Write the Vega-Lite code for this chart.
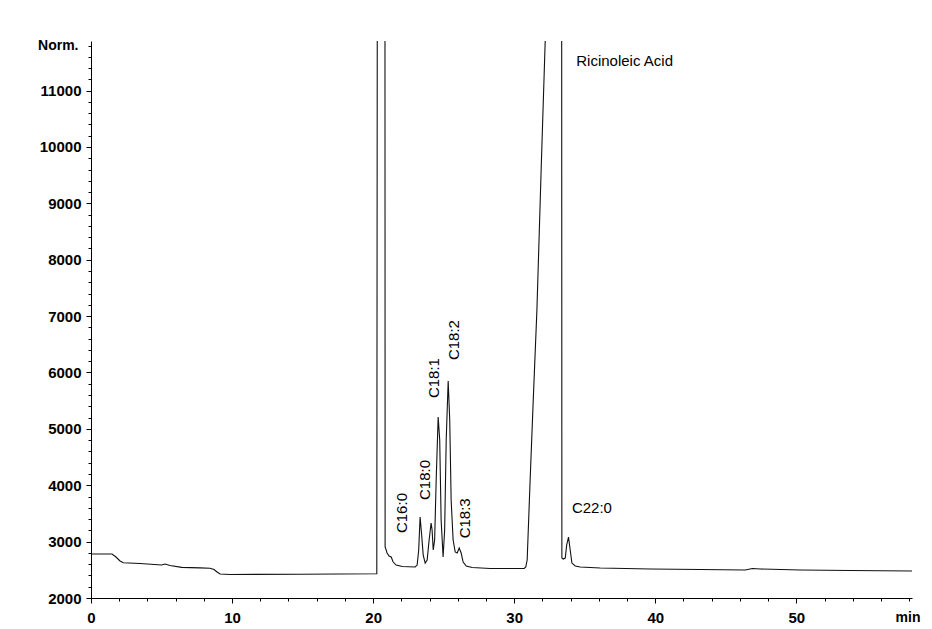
{
  "$schema": "https://vega.github.io/schema/vega-lite/v6.json",
  "width": 821,
  "height": 557,
  "autosize": {"type": "none"},
  "padding": {"left": 91, "top": 41, "right": 20, "bottom": 31},
  "background": "white",
  "config": {
    "view": {"stroke": null},
    "axis": {
      "domainColor": "#000",
      "tickColor": "#000",
      "labelColor": "#000",
      "titleColor": "#000",
      "labelFont": "Liberation Sans",
      "titleFont": "Liberation Sans",
      "grid": false
    }
  },
  "datasets": {
    "trace": [
      {"t": 0, "v": 2780}, {"t": 1.49, "v": 2780}, {"t": 1.77, "v": 2727}, {"t": 2.06, "v": 2656},
      {"t": 2.29, "v": 2626}, {"t": 3.48, "v": 2612}, {"t": 5.01, "v": 2585}, {"t": 5.25, "v": 2603},
      {"t": 5.6, "v": 2576}, {"t": 6.43, "v": 2544}, {"t": 7.73, "v": 2535}, {"t": 8.44, "v": 2527},
      {"t": 8.72, "v": 2505}, {"t": 8.94, "v": 2461}, {"t": 9.15, "v": 2425}, {"t": 9.86, "v": 2417},
      {"t": 14.82, "v": 2422}, {"t": 20.26, "v": 2429}, {"t": 20.32, "v": 20000}, {"t": 20.83, "v": 20000},
      {"t": 20.85, "v": 2904}, {"t": 20.99, "v": 2798}, {"t": 21.13, "v": 2745}, {"t": 21.28, "v": 2727},
      {"t": 21.42, "v": 2638}, {"t": 21.63, "v": 2585}, {"t": 22.06, "v": 2559}, {"t": 22.98, "v": 2550},
      {"t": 23.12, "v": 2585}, {"t": 23.23, "v": 2851}, {"t": 23.33, "v": 3436}, {"t": 23.44, "v": 3117},
      {"t": 23.55, "v": 2762}, {"t": 23.69, "v": 2620}, {"t": 23.83, "v": 2674}, {"t": 23.97, "v": 3028},
      {"t": 24.11, "v": 3330}, {"t": 24.18, "v": 3206}, {"t": 24.26, "v": 2851}, {"t": 24.36, "v": 3028},
      {"t": 24.47, "v": 4092}, {"t": 24.61, "v": 5209}, {"t": 24.72, "v": 4801}, {"t": 24.82, "v": 3383},
      {"t": 24.96, "v": 2727}, {"t": 25.07, "v": 3206}, {"t": 25.18, "v": 4801}, {"t": 25.32, "v": 5848},
      {"t": 25.43, "v": 5156}, {"t": 25.53, "v": 3738}, {"t": 25.67, "v": 3028}, {"t": 25.82, "v": 2816},
      {"t": 25.96, "v": 2798}, {"t": 26.1, "v": 2887}, {"t": 26.24, "v": 2798}, {"t": 26.38, "v": 2638},
      {"t": 26.6, "v": 2567}, {"t": 27.02, "v": 2541}, {"t": 28.3, "v": 2523}, {"t": 30.71, "v": 2523},
      {"t": 30.82, "v": 2550}, {"t": 30.92, "v": 2674}, {"t": 31.13, "v": 4092}, {"t": 31.35, "v": 5510},
      {"t": 31.61, "v": 7106}, {"t": 31.91, "v": 9588}, {"t": 32.2, "v": 11894}, {"t": 32.41, "v": 13667},
      {"t": 32.7, "v": 15262}, {"t": 33.0, "v": 17000}, {"t": 33.36, "v": 17000}, {"t": 33.38, "v": 2709},
      {"t": 33.48, "v": 2691}, {"t": 33.62, "v": 2709}, {"t": 33.72, "v": 2940}, {"t": 33.85, "v": 3082},
      {"t": 33.97, "v": 2851}, {"t": 34.09, "v": 2620}, {"t": 34.33, "v": 2567}, {"t": 34.68, "v": 2550},
      {"t": 36.1, "v": 2532}, {"t": 39.65, "v": 2514}, {"t": 43.19, "v": 2505}, {"t": 46.38, "v": 2496},
      {"t": 46.88, "v": 2523}, {"t": 47.45, "v": 2514}, {"t": 50.28, "v": 2496}, {"t": 53.83, "v": 2488},
      {"t": 58.23, "v": 2479}
    ],
    "flatLabels": [
      {"t": 34.4, "v": 11521, "label": "Ricinoleic Acid"},
      {"t": 34.09, "v": 3590, "label": "C22:0"}
    ],
    "upLabels": [
      {"t": 22.04, "v": 3152, "label": "C16:0"},
      {"t": 23.69, "v": 3738, "label": "C18:0"},
      {"t": 24.28, "v": 5546, "label": "C18:1"},
      {"t": 25.7, "v": 6220, "label": "C18:2"},
      {"t": 26.52, "v": 3058, "label": "C18:3"}
    ]
  },
  "layer": [
    {
      "data": {"name": "trace"},
      "mark": {"type": "line", "color": "#111", "strokeWidth": 1.1, "clip": true, "interpolate": "linear"},
      "encoding": {
        "x": {
          "field": "t", "type": "quantitative",
          "scale": {"domain": [0, 58.2], "nice": false, "zero": false},
          "axis": {
            "values": [0,2,4,6,8,10,12,14,16,18,20,22,24,26,28,30,32,34,36,38,40,42,44,46,48,50,52,54,56,58],
            "tickCount": 200,
            "format": "d",
            "labelExpr": "datum.value % 10 === 0 ? datum.label : ''",
            "labelOverlap": false,
            "labelFlush": false,
            "labelBound": false,
            "tickSize": {"condition": {"test": "datum.value % 10 === 0", "value": 5}, "value": 3},
            "tickWidth": 1,
            "domainWidth": 1,
            "labelPadding": 7,
            "labelFontSize": 15,
            "labelFontWeight": "bold",
            "title": "min",
            "titleFontSize": 14,
            "titleFontWeight": "bold",
            "titleAngle": 0,
            "titleAlign": "right",
            "titleBaseline": "top",
            "titleX": 829,
            "titleY": 12
          }
        },
        "y": {
          "field": "v", "type": "quantitative",
          "scale": {"domain": [2000, 11880], "nice": false, "zero": false},
          "axis": {
            "values": [2000,2200,2400,2600,2800,3000,3200,3400,3600,3800,4000,4200,4400,4600,4800,5000,5200,5400,5600,5800,6000,6200,6400,6600,6800,7000,7200,7400,7600,7800,8000,8200,8400,8600,8800,9000,9200,9400,9600,9800,10000,10200,10400,10600,10800,11000,11200,11400,11600,11800],
            "tickCount": 200,
            "labelExpr": "datum.value % 1000 === 0 ? datum.value : ''",
            "labelOverlap": false,
            "labelBound": false,
            "tickSize": {"condition": {"test": "datum.value % 1000 === 0", "value": 5}, "value": 3},
            "tickWidth": 1,
            "domainWidth": 1,
            "labelPadding": 5,
            "labelFontSize": 15,
            "labelFontWeight": "bold",
            "title": "Norm.",
            "titleFontSize": 14,
            "titleFontWeight": "bold",
            "titleAngle": 0,
            "titleAlign": "right",
            "titleBaseline": "middle",
            "titleX": -13,
            "titleY": 4
          }
        }
      }
    },
    {
      "data": {"name": "flatLabels"},
      "mark": {"type": "text", "align": "left", "baseline": "middle", "font": "Liberation Sans", "fontSize": 15, "color": "#000"},
      "encoding": {
        "x": {"field": "t", "type": "quantitative"},
        "y": {"field": "v", "type": "quantitative"},
        "text": {"field": "label"}
      }
    },
    {
      "data": {"name": "upLabels"},
      "mark": {"type": "text", "align": "left", "baseline": "middle", "angle": 270, "font": "Liberation Sans", "fontSize": 15, "color": "#000"},
      "encoding": {
        "x": {"field": "t", "type": "quantitative"},
        "y": {"field": "v", "type": "quantitative"},
        "text": {"field": "label"}
      }
    }
  ]
}
